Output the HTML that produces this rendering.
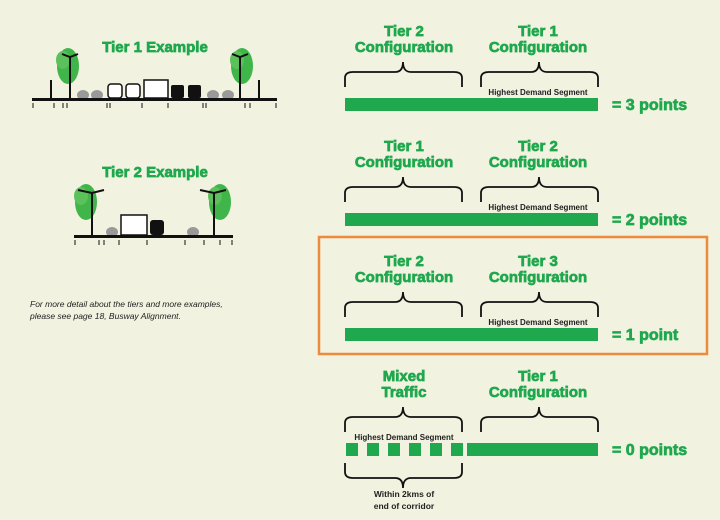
<!DOCTYPE html>
<html><head><meta charset="utf-8"><style>
html,body{margin:0;padding:0;background:#f1f2e0;}
svg{display:block}
text{font-family:"Liberation Sans",sans-serif}
.t{font-weight:700;fill:#1fa84d;stroke:#1fa84d;stroke-width:0.7;font-size:15px;text-anchor:middle}
.p{font-weight:700;fill:#1fa84d;stroke:#1fa84d;stroke-width:0.7;font-size:16px}
.h{font-size:8px;fill:#222;text-anchor:middle;font-weight:700}
.br{fill:none;stroke:#111;stroke-width:1.8}
</style></head><body>
<svg width="720" height="520" viewBox="0 0 720 520" xmlns="http://www.w3.org/2000/svg">
<rect width="720" height="520" fill="#f1f2e0"/>
<defs>
<g id="brace"><path class="br" d="M0 25 V16 Q0 10 8 10 L50 10 Q58 10 58 0 Q58 10 66 10 L109 10 Q117 10 117 16 V25"/></g>
<g id="tree"><ellipse cx="0" cy="0" rx="11" ry="18" fill="#3fb54a"/><ellipse cx="-5" cy="-6" rx="7" ry="9" fill="#5cc15a"/></g>
</defs>

<text class="t" x="404" y="36">Tier 2</text><text class="t" x="404" y="52">Configuration</text>
<text class="t" x="538" y="36">Tier 1</text><text class="t" x="538" y="52">Configuration</text>
<use href="#brace" transform="translate(345,62)"/><use href="#brace" transform="translate(481,62)"/>
<text class="h" x="538" y="95">Highest Demand Segment</text>
<rect x="345" y="98" width="253" height="13" fill="#1fa84d"/>
<text class="p" x="612" y="110">= 3 points</text>

<text class="t" x="404" y="151">Tier 1</text><text class="t" x="404" y="167">Configuration</text>
<text class="t" x="538" y="151">Tier 2</text><text class="t" x="538" y="167">Configuration</text>
<use href="#brace" transform="translate(345,177)"/><use href="#brace" transform="translate(481,177)"/>
<text class="h" x="538" y="210">Highest Demand Segment</text>
<rect x="345" y="213" width="253" height="13" fill="#1fa84d"/>
<text class="p" x="612" y="225">= 2 points</text>

<rect x="319" y="237" width="388" height="117" fill="none" stroke="#ee8a3c" stroke-width="2.5"/>
<text class="t" x="404" y="266">Tier 2</text><text class="t" x="404" y="282">Configuration</text>
<text class="t" x="538" y="266">Tier 3</text><text class="t" x="538" y="282">Configuration</text>
<use href="#brace" transform="translate(345,292)"/><use href="#brace" transform="translate(481,292)"/>
<text class="h" x="538" y="325">Highest Demand Segment</text>
<rect x="345" y="328" width="253" height="13" fill="#1fa84d"/>
<text class="p" x="612" y="340">= 1 point</text>

<text class="t" x="404" y="381">Mixed</text><text class="t" x="404" y="397">Traffic</text>
<text class="t" x="538" y="381">Tier 1</text><text class="t" x="538" y="397">Configuration</text>
<use href="#brace" transform="translate(345,407)"/><use href="#brace" transform="translate(481,407)"/>
<text class="h" x="404" y="440">Highest Demand Segment</text>
<g fill="#1fa84d">
<rect x="346" y="443" width="12" height="13"/><rect x="367" y="443" width="12" height="13"/>
<rect x="388" y="443" width="12" height="13"/><rect x="409" y="443" width="12" height="13"/>
<rect x="430" y="443" width="12" height="13"/><rect x="451" y="443" width="12" height="13"/>
<rect x="467" y="443" width="131" height="13"/></g>
<use href="#brace" transform="translate(345,488) scale(1,-1)"/>
<text class="h" x="404" y="497" style="font-size:8.5px">Within 2kms of</text>
<text class="h" x="404" y="509" style="font-size:8.5px">end of corridor</text>
<text class="p" x="612" y="455">= 0 points</text>

<text class="t" x="155" y="52">Tier 1 Example</text>
<use href="#tree" transform="translate(68,66)"/><use href="#tree" transform="translate(242,66)"/>
<g stroke="#111" stroke-width="2" fill="none">
<path d="M70 98 V56 M62 54 L70 57 L78 54"/><path d="M240 98 V56 M232 54 L240 57 L248 54"/>
<line x1="51" y1="98" x2="51" y2="80"/><line x1="259" y1="98" x2="259" y2="80"/>
</g>
<g fill="#999"><ellipse cx="83" cy="95" rx="6" ry="5"/><ellipse cx="97" cy="95" rx="6" ry="5"/><ellipse cx="213" cy="95" rx="6" ry="5"/><ellipse cx="228" cy="95" rx="6" ry="5"/></g>
<rect x="108" y="84" width="14" height="14" rx="3" fill="#fff" stroke="#111" stroke-width="1.5"/>
<rect x="126" y="84" width="14" height="14" rx="3" fill="#fff" stroke="#111" stroke-width="1.5"/>
<rect x="144" y="80" width="24" height="18" fill="#fff" stroke="#111" stroke-width="1.5"/>
<rect x="171" y="85" width="13" height="13" rx="2" fill="#111"/>
<rect x="188" y="85" width="13" height="13" rx="2" fill="#111"/>
<rect x="32" y="98" width="245" height="3" fill="#111"/>
<g stroke="#111" stroke-width="1"><path d="M33 103v5M54 103v5M63 103v5M67 103v5M107 103v5M110 103v5M142 103v5M168 103v5M203 103v5M206 103v5M245 103v5M250 103v5M276 103v5"/></g>

<text class="t" x="155" y="177">Tier 2 Example</text>
<use href="#tree" transform="translate(86,202)"/><use href="#tree" transform="translate(220,202)"/>
<g stroke="#111" stroke-width="2" fill="none">
<path d="M92 235 V192 M78 190 L92 193 L104 190"/><path d="M214 235 V192 M200 190 L214 193 L226 190"/>
</g>
<g fill="#999"><ellipse cx="112" cy="232" rx="6" ry="5"/><ellipse cx="193" cy="232" rx="6" ry="5"/></g>
<rect x="121" y="215" width="26" height="20" fill="#fff" stroke="#111" stroke-width="1.5"/>
<rect x="150" y="220" width="14" height="15" rx="3" fill="#111"/>
<rect x="74" y="235" width="159" height="3" fill="#111"/>
<g stroke="#111" stroke-width="1"><path d="M75 240v5M99 240v5M104 240v5M119 240v5M147 240v5M185 240v5M204 240v5M220 240v5M232 240v5"/></g>

<text x="30" y="307" style="font-size:8.5px;font-style:italic;fill:#222">For more detail about the tiers and more examples,</text>
<text x="30" y="319" style="font-size:8.5px;font-style:italic;fill:#222">please see page 18, Busway Alignment.</text>
</svg>
</body></html>
